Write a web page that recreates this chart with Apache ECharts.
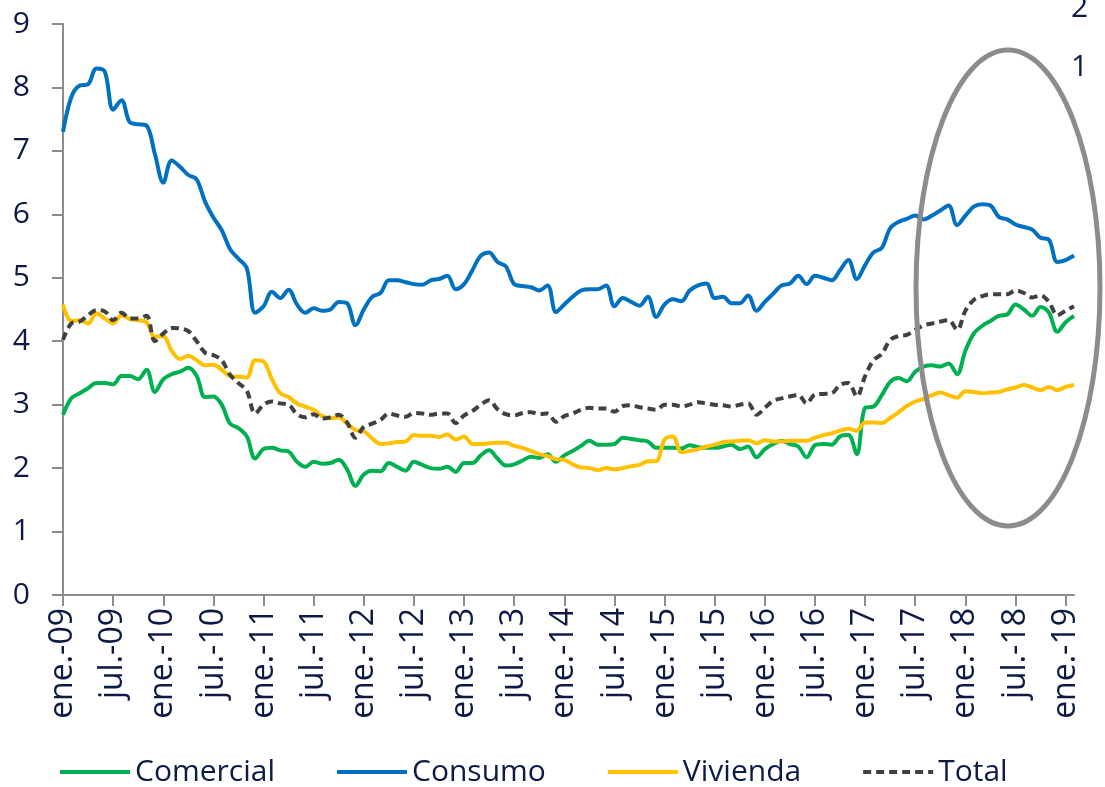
<!DOCTYPE html>
<html>
<head>
  <meta charset="utf-8">
  <title>cartera vencida</title>
  <script src="https://cdn.jsdelivr.net/npm/echarts@6/dist/echarts.min.js"></script>
  <style>
    html, body { margin: 0; padding: 0; background: #fff; }
    #main { width: 1105px; height: 787px; }
  </style>
</head>
<body>
  <div id="main"></div>
  <script>
    // meses ene.-09 .. feb.-19
    var meses = ['ene.', 'feb.', 'mar.', 'abr.', 'may.', 'jun.', 'jul.', 'ago.', 'sep.', 'oct.', 'nov.', 'dic.'];
    var anios = ['09', '10', '11', '12', '13', '14', '15', '16', '17', '18', '19'];
    var categorias = [];
    anios.forEach(function (a) {
      meses.forEach(function (m) { categorias.push(m + '-' + a); });
    });
    categorias = categorias.slice(0, 122);

    var comercial = [
      2.84, 3.10, 3.18, 3.26, 3.34, 3.34, 3.32, 3.45, 3.45, 3.40, 3.55, 3.20,
      3.40, 3.48, 3.52, 3.58, 3.45, 3.12, 3.13, 3.00, 2.70, 2.63, 2.50, 2.15,
      2.30, 2.32, 2.28, 2.26, 2.10, 2.02, 2.10, 2.07, 2.08, 2.13, 1.98, 1.72,
      1.90, 1.96, 1.95, 2.08, 2.02, 1.96, 2.10, 2.05, 2.00, 1.99, 2.02, 1.94,
      2.08, 2.08, 2.20, 2.28, 2.15, 2.04, 2.06, 2.12, 2.18, 2.16, 2.22, 2.10,
      2.20, 2.27, 2.35, 2.43, 2.37, 2.37, 2.38, 2.48, 2.46, 2.44, 2.42, 2.32,
      2.32, 2.32, 2.31, 2.36, 2.33, 2.32, 2.32, 2.34, 2.37, 2.30, 2.34, 2.17,
      2.30, 2.38, 2.43, 2.38, 2.34, 2.17, 2.36, 2.38, 2.37, 2.50, 2.52, 2.22,
      2.95, 2.97, 3.15, 3.36, 3.42, 3.37, 3.52, 3.60, 3.62, 3.60, 3.65, 3.48,
      3.85, 4.12, 4.24, 4.32, 4.40, 4.42, 4.58, 4.50, 4.40, 4.54, 4.45, 4.15,
      4.30, 4.40
    ];
    var consumo = [
      7.30, 7.85, 8.03, 8.05, 8.30, 8.25, 7.65, 7.80, 7.45, 7.42, 7.40, 6.95,
      6.50, 6.85, 6.75, 6.62, 6.55, 6.20, 5.95, 5.75, 5.45, 5.30, 5.15, 4.45,
      4.55, 4.78, 4.68, 4.81, 4.58, 4.45, 4.52, 4.48, 4.50, 4.62, 4.60, 4.25,
      4.50, 4.70, 4.76, 4.96, 4.96, 4.93, 4.90, 4.89, 4.96, 4.98, 5.03, 4.82,
      4.90, 5.12, 5.35, 5.40, 5.25, 5.18, 4.90, 4.87, 4.85, 4.80, 4.88, 4.46,
      4.58, 4.70, 4.80, 4.82, 4.82, 4.88, 4.55, 4.68, 4.62, 4.56, 4.70, 4.38,
      4.58, 4.66, 4.63, 4.80, 4.88, 4.91, 4.68, 4.70, 4.60, 4.60, 4.72, 4.48,
      4.62, 4.75, 4.88, 4.91, 5.03, 4.90, 5.03, 5.00, 4.96, 5.12, 5.28, 4.98,
      5.20, 5.40, 5.47, 5.78, 5.88, 5.93, 5.98, 5.92, 5.98, 6.06, 6.14, 5.83,
      5.98, 6.12, 6.16, 6.14, 5.96, 5.92, 5.84, 5.80, 5.76, 5.63, 5.60, 5.25,
      5.28, 5.35
    ];
    var vivienda = [
      4.58, 4.32, 4.33, 4.28, 4.44, 4.36, 4.28, 4.41, 4.35, 4.33, 4.30, 4.07,
      4.08, 3.85, 3.72, 3.77, 3.70, 3.62, 3.63, 3.55, 3.45, 3.44, 3.43, 3.70,
      3.68, 3.40, 3.18, 3.12, 3.02, 2.97, 2.92, 2.82, 2.79, 2.80, 2.70, 2.60,
      2.58, 2.47, 2.38, 2.39, 2.41, 2.42, 2.52, 2.51, 2.51, 2.49, 2.53, 2.45,
      2.50, 2.38, 2.38, 2.39, 2.40, 2.40, 2.35, 2.32, 2.27, 2.22, 2.19, 2.14,
      2.13, 2.06, 2.01, 2.00, 1.97, 2.00, 1.98, 2.00, 2.03, 2.05, 2.11, 2.11,
      2.45, 2.50, 2.25, 2.27, 2.30, 2.34, 2.37, 2.41, 2.42, 2.43, 2.44, 2.39,
      2.44, 2.42, 2.42, 2.43, 2.43, 2.43, 2.48, 2.52, 2.55, 2.59, 2.62, 2.59,
      2.72, 2.72, 2.71, 2.79, 2.88, 2.98, 3.05, 3.09, 3.15, 3.19, 3.15, 3.11,
      3.21, 3.20, 3.18, 3.19, 3.20, 3.24, 3.27, 3.31, 3.27, 3.23, 3.28, 3.23,
      3.28, 3.31
    ];
    var total = [
      4.02, 4.28, 4.31, 4.41, 4.49, 4.47, 4.33, 4.45, 4.36, 4.36, 4.40, 4.00,
      4.12, 4.21, 4.20, 4.16, 4.00, 3.82, 3.78, 3.70, 3.47, 3.34, 3.22, 2.86,
      3.00, 3.05, 3.02, 3.00, 2.85, 2.80, 2.85, 2.78, 2.80, 2.84, 2.72, 2.48,
      2.65, 2.70, 2.76, 2.86, 2.83, 2.81, 2.87, 2.86, 2.84, 2.86, 2.86, 2.71,
      2.83, 2.90, 3.00, 3.07, 2.93, 2.85, 2.83, 2.87, 2.88, 2.85, 2.86, 2.73,
      2.82, 2.86, 2.92, 2.95, 2.94, 2.94, 2.89, 2.98, 2.99, 2.96, 2.94, 2.92,
      3.00, 3.00, 2.97, 3.00, 3.04, 3.02, 3.00, 2.99, 2.97, 3.00, 3.02, 2.84,
      2.95, 3.06, 3.10, 3.13, 3.15, 3.02, 3.16, 3.17, 3.18, 3.31, 3.34, 3.13,
      3.45, 3.70, 3.80, 4.02, 4.08, 4.10, 4.18, 4.25, 4.28, 4.31, 4.33, 4.18,
      4.48, 4.65, 4.71, 4.74, 4.74, 4.74, 4.80, 4.76, 4.69, 4.72, 4.62, 4.41,
      4.48, 4.55
    ];

    var colors = { comercial: '#00b050', consumo: '#0070c0', vivienda: '#ffc000', total: '#404040' };
    var txt = '#0d1a45';
    var eje = '#8c8c8c';
    var fuente = '"Open Sans", sans-serif';

    var myChart = echarts.init(document.getElementById('main'));

    function linea(nombre, datos, color, tipo) {
      return {
        name: nombre,
        type: 'line',
        data: datos,
        smooth: 0.35,
        symbol: 'none',
        lineStyle: { color: color, width: 4, type: tipo || 'solid' },
        itemStyle: { color: color }
      };
    }

    var option = {
      animation: false,
      textStyle: { fontFamily: fuente },
      grid: { left: 63, right: 31, top: 24, bottom: 192 },
      legend: {
        left: 53,
        top: 752,
        itemWidth: 70,
        itemHeight: 14,
        itemGap: 60,
        itemStyle: { opacity: 0 },
        lineStyle: { width: 4 },
        textStyle: { fontSize: 30, color: txt, fontFamily: fuente },
        data: ['Comercial', 'Consumo', 'Vivienda', 'Total']
      },
      xAxis: {
        type: 'category',
        boundaryGap: false,
        data: categorias,
        axisLine: { lineStyle: { color: eje, width: 2 } },
        axisTick: { interval: 5, length: 11, lineStyle: { color: eje, width: 2 } },
        axisLabel: { interval: 5, rotate: 90, margin: 13, fontSize: 32, color: txt, fontFamily: fuente },
        splitLine: { show: false }
      },
      yAxis: {
        type: 'value',
        min: 0,
        max: 9,
        interval: 1,
        axisLine: { show: true, lineStyle: { color: eje, width: 2 } },
        axisTick: { show: true, length: 11, lineStyle: { color: eje, width: 2 } },
        axisLabel: { fontSize: 30, color: txt, margin: 33, fontFamily: fuente },
        splitLine: { show: false }
      },
      graphic: [
        {
          type: 'ellipse',
          z: 100,
          shape: { cx: 1008, cy: 288, rx: 92, ry: 238 },
          style: { fill: 'none', stroke: '#8c8c8c', lineWidth: 5 }
        },
        {
          type: 'text',
          z: 100,
          x: 1071, y: -7,
          style: { text: '2', fontSize: 30, fill: txt, fontFamily: fuente }
        },
        {
          type: 'text',
          z: 100,
          x: 1071, y: 52,
          style: { text: '1', fontSize: 30, fill: txt, fontFamily: fuente }
        }
      ],
      series: [
        linea('Comercial', comercial, colors.comercial),
        linea('Consumo', consumo, colors.consumo),
        linea('Vivienda', vivienda, colors.vivienda),
        linea('Total', total, colors.total, [8, 5])
      ]
    };

    myChart.setOption(option);
  </script>
</body>
</html>
